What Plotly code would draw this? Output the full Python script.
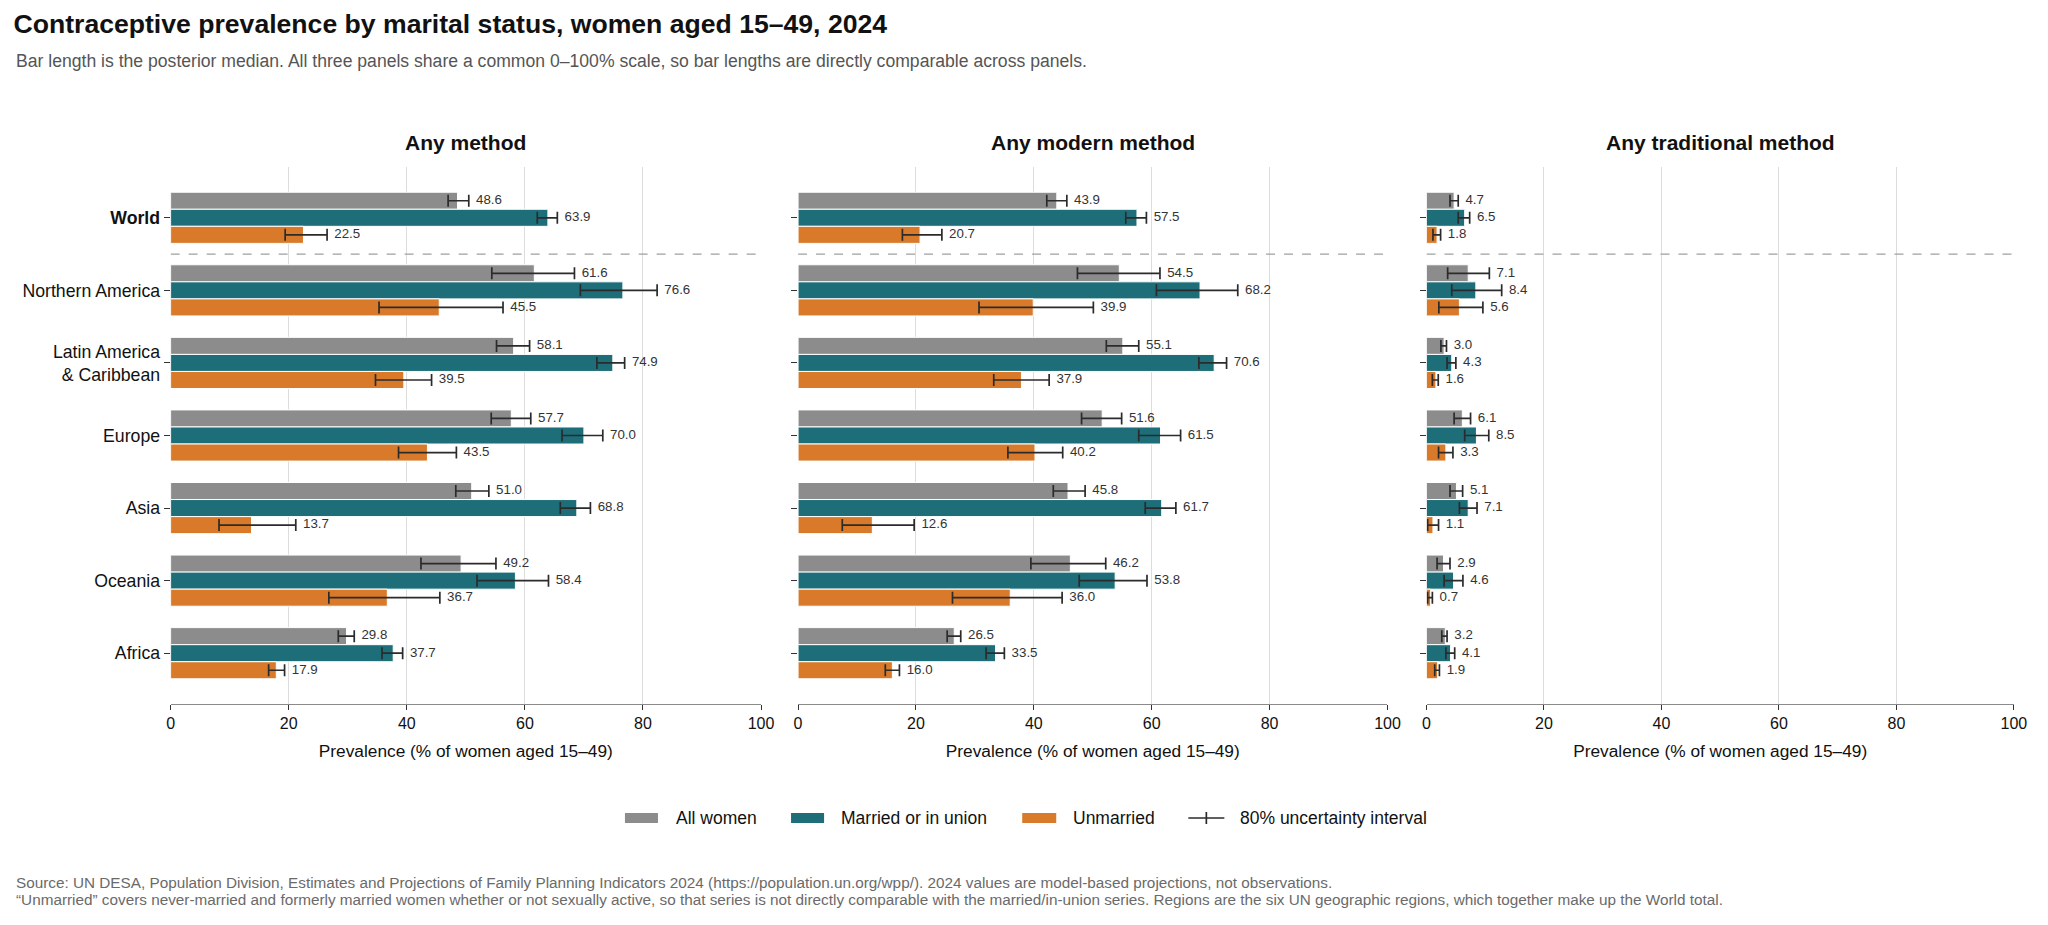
import plotly.graph_objects as go
from plotly.subplots import make_subplots

# ---------------- data ----------------
categories = ["World", "Northern America", "Latin America & Caribbean", "Europe", "Asia", "Oceania", "Africa"]
tick_labels = ["<b>World</b>", "Northern America", "Latin America<br>& Caribbean", "Europe", "Asia", "Oceania", "Africa"]
panel_titles = ["Any method", "Any modern method", "Any traditional method"]
series_names = ["All women", "Married or in union", "Unmarried"]
interval_name = "80% uncertainty interval"

# Any method
any_all_med = [48.6, 61.6, 58.1, 57.7, 51.0, 49.2, 29.8]
any_all_lo = [47.0, 54.4, 55.2, 54.3, 48.3, 42.4, 28.4]
any_all_hi = [50.5, 68.4, 60.8, 61.0, 53.9, 55.1, 31.1]
any_mar_med = [63.9, 76.6, 74.9, 70.0, 68.8, 58.4, 37.7]
any_mar_lo = [62.1, 69.4, 72.2, 66.3, 66.0, 51.9, 35.8]
any_mar_hi = [65.5, 82.4, 76.9, 73.2, 71.1, 64.0, 39.3]
any_unm_med = [22.5, 45.5, 39.5, 43.5, 13.7, 36.7, 17.9]
any_unm_lo = [19.4, 35.3, 34.7, 38.6, 8.2, 26.8, 16.6]
any_unm_hi = [26.5, 56.3, 44.2, 48.4, 21.2, 45.6, 19.3]

# Any modern method
mod_all_med = [43.9, 54.5, 55.1, 51.6, 45.8, 46.2, 26.5]
mod_all_lo = [42.2, 47.4, 52.3, 48.1, 43.3, 39.5, 25.3]
mod_all_hi = [45.6, 61.4, 57.8, 54.9, 48.7, 52.2, 27.6]
mod_mar_med = [57.5, 68.2, 70.6, 61.5, 61.7, 53.8, 33.5]
mod_mar_lo = [55.6, 60.8, 68.0, 57.8, 58.9, 47.7, 31.9]
mod_mar_hi = [59.1, 74.6, 72.7, 64.9, 64.1, 59.2, 35.0]
mod_unm_med = [20.7, 39.9, 37.9, 40.2, 12.6, 36.0, 16.0]
mod_unm_lo = [17.7, 30.7, 33.2, 35.6, 7.5, 26.2, 14.8]
mod_unm_hi = [24.4, 50.1, 42.6, 44.9, 19.7, 44.8, 17.2]

# Any traditional method
tra_all_med = [4.7, 7.1, 3.0, 6.1, 5.1, 2.9, 3.2]
tra_all_lo = [4.0, 3.6, 2.45, 4.7, 4.0, 1.8, 2.6]
tra_all_hi = [5.4, 10.7, 3.4, 7.5, 6.15, 4.0, 3.5]
tra_mar_med = [6.5, 8.4, 4.3, 8.5, 7.1, 4.6, 4.1]
tra_mar_lo = [5.4, 4.3, 3.5, 6.5, 5.6, 3.0, 3.3]
tra_mar_hi = [7.35, 12.8, 5.0, 10.6, 8.6, 6.2, 4.8]
tra_unm_med = [1.8, 5.6, 1.6, 3.3, 1.1, 0.7, 1.9]
tra_unm_lo = [1.1, 2.1, 1.0, 2.05, 0.2, 0.2, 1.4]
tra_unm_hi = [2.4, 9.6, 2.0, 4.5, 2.05, 1.0, 2.2]

x_ticks = [0, 20, 40, 60, 80, 100]

# ---------------- styling ----------------
FONT = "Liberation Sans, Arial, sans-serif"
colors = ["#8c8c8c", "#1d6e78", "#d97a2b"]
ERR = "#2b2b2b"
W, H = 2048, 925
BW = 0.235  # bar thickness in category units


def px(X):
    # horizontal pixel position in the window -> paper fraction
    return ((X - 3.5) / 0.991) / W


def py(Y):
    return 1 - Y / H


panels = [
    [(any_all_med, any_all_lo, any_all_hi), (any_mar_med, any_mar_lo, any_mar_hi), (any_unm_med, any_unm_lo, any_unm_hi)],
    [(mod_all_med, mod_all_lo, mod_all_hi), (mod_mar_med, mod_mar_lo, mod_mar_hi), (mod_unm_med, mod_unm_lo, mod_unm_hi)],
    [(tra_all_med, tra_all_lo, tra_all_hi), (tra_mar_med, tra_mar_lo, tra_mar_hi), (tra_unm_med, tra_unm_lo, tra_unm_hi)],
]

fig = make_subplots(rows=1, cols=3, shared_yaxes=True)

idx = list(range(len(categories)))
for p, panel in enumerate(panels):
    for k, (med, lo, hi) in enumerate(panel):
        ypos = [i + (k - 1) * BW for i in idx]
        fig.add_trace(go.Bar(
            x=med, y=ypos, orientation="h", width=BW,
            name=series_names[k], showlegend=False,
            marker=dict(color=colors[k], line=dict(color="white", width=1)),
            error_x=dict(type="data", symmetric=False,
                         array=[h - m for h, m in zip(hi, med)],
                         arrayminus=[m - l for m, l in zip(med, lo)],
                         color=ERR, thickness=1.7, width=6),
            hoverinfo="skip",
        ), row=1, col=p + 1)
        fig.add_trace(go.Scatter(
            x=hi, y=ypos, mode="markers+text",
            marker=dict(size=10, color="rgba(0,0,0,0)"),
            text=[f"{v:.1f}" for v in med],
            textposition="middle right",
            textfont=dict(family=FONT, size=13.3, color="#333333"),
            showlegend=False, hoverinfo="skip",
        ), row=1, col=p + 1)

# domains in pixels -> paper fractions
x_domains = [(170, 760), (797, 1386), (1425, 2012)]
y_top, y_bot = 167, 704
for p, (a, b) in enumerate(x_domains):
    sfx = "" if p == 0 else str(p + 1)
    fig.layout["xaxis" + sfx].update(
        domain=[px(a), min(px(b), 1.0)], range=[0, 100], tickvals=x_ticks,
        showgrid=True, gridcolor="#dddddd", gridwidth=1, zeroline=False,
        showline=True, linecolor="#8a8a8a", linewidth=1.2,
        ticks="outside", ticklen=5, tickcolor="#333333",
        tickfont=dict(family=FONT, size=16, color="#111111"),
        title=dict(text="Prevalence (% of women aged 15–49)", standoff=13,
                   font=dict(family=FONT, size=17.3, color="#111111")),
    )
    fig.layout["yaxis" + sfx].update(
        domain=[py(y_bot), py(y_top)], range=[6.7, -0.7],
        tickvals=idx, ticktext=tick_labels if p == 0 else [""] * len(idx),
        showticklabels=(p == 0),
        showgrid=False, zeroline=False, showline=False,
        ticks="outside", ticklen=6, tickcolor="#333333",
        tickfont=dict(family=FONT, size=17.7, color="#111111"),
    )
    # dashed separator between World and regions
    fig.add_shape(type="line", xref="x" + sfx, yref="y" + sfx,
                  x0=0, x1=100, y0=0.5, y1=0.5,
                  line=dict(color="#a0a0a0", width=1.3, dash="dash"))
    fig.add_annotation(text=f"<b>{panel_titles[p]}</b>", xref="x" + sfx + " domain", yref="paper",
                       x=0.5, y=py(142), xanchor="center", yanchor="middle", showarrow=False,
                       font=dict(family=FONT, size=21, color="#111111"))

# subtitle
fig.add_annotation(
    text="Bar length is the posterior median. All three panels share a common 0–100% scale, so bar lengths are directly comparable across panels.",
    xref="paper", yref="paper", x=px(13), y=py(61), xanchor="left", yanchor="middle",
    showarrow=False, font=dict(family=FONT, size=17.6, color="#555555"))

# footer (two lines)
footer_lines = [
    "Source: UN DESA, Population Division, Estimates and Projections of Family Planning Indicators 2024 "
    "(https://population.un.org/wpp/). 2024 values are model-based projections, not observations.",
    "“Unmarried” covers never-married and formerly married women whether or not sexually active, so that series "
    "is not directly comparable with the married/in-union series. Regions are the six UN geographic regions, "
    "which together make up the World total.",
]
for line, yy in zip(footer_lines, [882, 899]):
    fig.add_annotation(text=line, xref="paper", yref="paper", x=px(13), y=py(yy),
                       xanchor="left", yanchor="middle", align="left", showarrow=False,
                       font=dict(family=FONT, size=15.3, color="#6a6a6a"))

# manual legend
LEG_Y = 818
legend_rects = [(624, 657), (790, 823), (1021, 1055)]
legend_text_x = [673, 838, 1070]
for k in range(3):
    x0, x1 = legend_rects[k]
    fig.add_shape(type="rect", xref="paper", yref="paper",
                  x0=px(x0), x1=px(x1), y0=py(LEG_Y + 5), y1=py(LEG_Y - 5),
                  fillcolor=colors[k], line=dict(width=0))
    fig.add_annotation(text=series_names[k], xref="paper", yref="paper",
                       x=px(legend_text_x[k]), y=py(LEG_Y), xanchor="left", yanchor="middle",
                       showarrow=False, font=dict(family=FONT, size=17.5, color="#111111"))
fig.add_shape(type="line", xref="paper", yref="paper", x0=px(1187), x1=px(1223),
              y0=py(LEG_Y), y1=py(LEG_Y), line=dict(color=ERR, width=1.7))
fig.add_shape(type="line", xref="paper", yref="paper", x0=px(1205), x1=px(1205),
              y0=py(LEG_Y - 6), y1=py(LEG_Y + 6), line=dict(color=ERR, width=1.7))
fig.add_annotation(text=interval_name, xref="paper", yref="paper",
                   x=px(1237), y=py(LEG_Y), xanchor="left", yanchor="middle",
                   showarrow=False, font=dict(family=FONT, size=17.5, color="#111111"))

fig.update_layout(
    width=W, height=H, autosize=False,
    margin=dict(l=0, r=0, t=0, b=0),
    paper_bgcolor="white", plot_bgcolor="white",
    barmode="overlay",
    font=dict(family=FONT, color="#111111"),
    title=dict(text="<b>Contraceptive prevalence by marital status, women aged 15–49, 2024</b>",
               x=px(13), xanchor="left", xref="paper", y=py(24), yanchor="middle",
               font=dict(family=FONT, size=26.6, color="#111111")),
    showlegend=False,
)

fig.write_html("out.html", config={"displayModeBar": False},
               post_script="document.body.style.margin='0px';document.body.style.overflow='hidden';")
